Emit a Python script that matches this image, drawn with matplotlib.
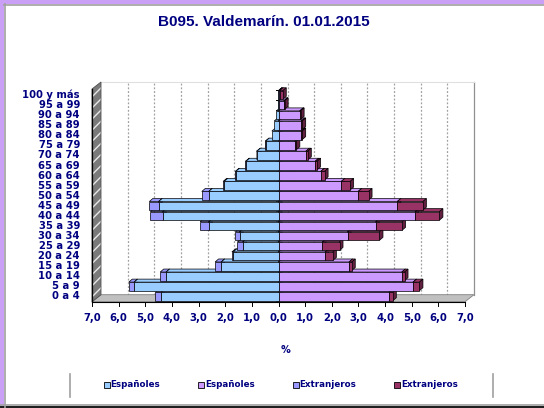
import numpy as np
import matplotlib
matplotlib.use("Agg")
import matplotlib.pyplot as plt
from matplotlib.patches import Polygon, Rectangle
from matplotlib.lines import Line2D

# age groups, bottom to top
groups = ["0 a 4", "5 a 9", "10 a 14", "15 a 19", "20 a 24", "25 a 29",
          "30 a 34", "35 a 39", "40 a 44", "45 a 49", "50 a 54", "55 a 59",
          "60 a 64", "65 a 69", "70 a 74", "75 a 79", "80 a 84", "85 a 89",
          "90 a 94", "95 a 99", "100 y más"]

# % of population (men on the left, women on the right)
men_esp = [4.40, 5.42, 4.22, 2.15, 1.70, 1.34, 1.46, 2.62, 4.35, 4.50, 2.62,
           2.04, 1.60, 1.22, 0.81, 0.48, 0.25, 0.16, 0.08, 0.03, 0.01]
men_ext = [0.22, 0.20, 0.22, 0.23, 0.05, 0.20, 0.16, 0.32, 0.46, 0.35, 0.26,
           0.04, 0.02, 0.02, 0.01, 0.01, 0.00, 0.00, 0.00, 0.00, 0.00]
women_esp = [4.15, 5.05, 4.63, 2.65, 1.75, 1.65, 2.59, 3.65, 5.13, 4.46, 2.99,
             2.36, 1.59, 1.38, 1.03, 0.61, 0.86, 0.86, 0.80, 0.20, 0.04]
women_ext = [0.14, 0.24, 0.10, 0.10, 0.29, 0.64, 1.20, 0.99, 0.91, 0.96, 0.39,
             0.33, 0.14, 0.07, 0.07, 0.06, 0.03, 0.03, 0.03, 0.03, 0.12]

xticks = list(range(-7, 8))
legend_labels = ["Españoles", "Españoles", "Extranjeros", "Extranjeros"]

C_MEN_ESP = "#99CCFF"
C_MEN_EXT = "#9999FF"
C_WOM_ESP = "#CC99FF"
C_WOM_EXT = "#993366"
NAVY = "#000080"
SMALL = dict(family="DejaVu Sans", fontweight="bold", color=NAVY)

W, H = 544, 408
fig = plt.figure(figsize=(W / 100, H / 100), dpi=100)
fig.patch.set_facecolor("white")

# front plane of the 3d box in pixels
X0, X1 = 92, 465
YT, YB = 89, 301.7
YLO, YHI = -0.52, 20.6
ppx = (X1 - X0) / 14.0
ppy = (YB - YT) / (YHI - YLO)

ax = fig.add_axes([X0 / W, 1 - YB / H, (X1 - X0) / W, (YB - YT) / H])
ax.set_xlim(-7, 7)
ax.set_ylim(YLO, YHI)
ax.axis("off")

ox, oy = 9 / ppx, 7 / ppy      # wall depth
bx, by = 3.5 / ppx, 3 / ppy    # bar depth


def poly(pts, **kw):
    p = Polygon(pts, closed=True, clip_on=False, **kw)
    ax.add_patch(p)
    return p


# floor and left wall
poly([(-7, YLO), (7, YLO), (7 + ox, YLO + oy), (-7 + ox, YLO + oy)],
     facecolor="#C0C0C0", edgecolor="#808080", lw=0.6, zorder=1)
poly([(-7, YLO), (-7, YHI), (-7 + ox, YHI + oy), (-7 + ox, YLO + oy)],
     facecolor="#7A7A7A", edgecolor="#E8E8E8", hatch="///", lw=0, zorder=1)
poly([(-7, YLO), (-7, YHI), (-7 + ox, YHI + oy), (-7 + ox, YLO + oy)],
     facecolor="none", edgecolor="#505050", lw=0.6, zorder=1)
ax.add_line(Line2D([-7, -7], [YLO, YHI], color="black", lw=0.9, zorder=1.1,
                   clip_on=False))

# back wall gridlines
for x in xticks:
    if abs(x) == 7:
        continue
    ax.add_line(Line2D([x + ox, x + ox], [YLO + oy, YHI + oy], color="#A0A0A0",
                       lw=0.9, ls=(0, (1.5, 1.5)), zorder=0.8, clip_on=False))
ax.add_line(Line2D([7 + ox, 7 + ox], [YLO + oy, YHI + oy], color="#909090",
                   lw=0.9, zorder=0.8, clip_on=False))
ax.add_line(Line2D([-7 + ox, 7 + ox], [YHI + oy, YHI + oy], color="#E0E0E0",
                   lw=0.8, zorder=0.8, clip_on=False))

# category axis at zero
ax.add_line(Line2D([0, 0], [YLO, YHI], color="black", lw=0.8, zorder=2,
                   clip_on=False))
for k in range(len(groups) + 1):
    yk = k - 0.5
    ax.add_line(Line2D([-3 / ppx, 0], [yk, yk], color="black", lw=0.7,
                       zorder=2, clip_on=False))


def darker(c, f=0.65):
    r, g, b = matplotlib.colors.to_rgb(c)
    return (r * f, g * f, b * f)


def box(x0, x1, y, h, color, z):
    if abs(x1 - x0) < 1e-6:
        return
    yb, yt = y - h / 2, y + h / 2
    kw = dict(edgecolor="black", lw=0.5, zorder=z)
    poly([(x0, yt), (x1, yt), (x1 + bx, yt + by), (x0 + bx, yt + by)],
         facecolor=color, **kw)
    poly([(x1, yb), (x1, yt), (x1 + bx, yt + by), (x1 + bx, yb + by)],
         facecolor=darker(color), **kw)
    poly([(x0, yb), (x1, yb), (x1, yt), (x0, yt)], facecolor=color, **kw)


bar_h = 0.85
for i in range(len(groups)):
    z = 3 + i * 0.1
    me, mx = men_esp[i], men_ext[i]
    we, wx = women_esp[i], women_ext[i]
    box(-(me + mx), -me, i, bar_h, C_MEN_EXT, z)
    box(-me, 0, i, bar_h, C_MEN_ESP, z + 0.01)
    box(0, we, i, bar_h, C_WOM_ESP, z + 0.02)
    box(we, we + wx, i, bar_h, C_WOM_EXT, z + 0.03)

# value axis on the front edge
ax.add_line(Line2D([-7, 7], [YLO, YLO], color="black", lw=0.8, zorder=6,
                   clip_on=False))
for x in xticks:
    ax.add_line(Line2D([x, x], [YLO, YLO - 4 / ppy], color="black", lw=0.7,
                       zorder=6, clip_on=False))
    ax.text(x, YLO - 16.5 / ppy, f"{abs(x):.1f}".replace(".", ","),
            ha="center", va="center", fontsize=7.3, **SMALL)

for i, g in enumerate(groups):
    ax.text(-7 - 12 / ppx, i, g, ha="right", va="center", fontsize=7.2, **SMALL)

fig.text(285.5 / W, 1 - 350 / H, "%", ha="center", va="center", fontsize=7,
         **SMALL)

fig.text(264 / W, 1 - 22.5 / H, "B095. Valdemarín. 01.01.2015", ha="center",
         va="center", fontsize=11, family="Liberation Sans",
         fontweight="bold", color=NAVY)

# legend strip
for lx in (70, 493):
    fig.add_artist(Line2D([lx / W, lx / W], [1 - 374 / H, 1 - 397 / H],
                          color="#A0A0A0", lw=1.2))
for cx, lab, col in zip([106.7, 201, 295.7, 397.3], legend_labels,
                        [C_MEN_ESP, C_WOM_ESP, C_MEN_EXT, C_WOM_EXT]):
    fig.add_artist(Rectangle(((cx - 3) / W, 1 - 388 / H), 6 / W, 6 / H,
                             facecolor=col, edgecolor="black", lw=0.6))
    fig.text((cx + 4) / W, 1 - 384.5 / H, lab, ha="left", va="center",
             fontsize=6.3, **SMALL)

# outer frame
fig.add_artist(Rectangle((0, 0), 4 / W, 1, facecolor="#C9A0F5", lw=0))
fig.add_artist(Rectangle((0, 1 - 4 / H), 1, 4 / H, facecolor="#C9A0F5", lw=0))
fig.add_artist(Line2D([4.5 / W, 4.5 / W], [0, 1 - 4 / H], color="#A0A0A0",
                      lw=1.2))
fig.add_artist(Line2D([4 / W, 1], [1 - 4.5 / H, 1 - 4.5 / H], color="#A0A0A0",
                      lw=1.2))
fig.add_artist(Line2D([0, 1], [1 - 404.5 / H, 1 - 404.5 / H], color="#A0A0A0",
                      lw=1.2))
fig.add_artist(Rectangle((0, 0), 1, 2.5 / H, facecolor="#202020", lw=0))

fig.savefig("out.png", dpi=100)
